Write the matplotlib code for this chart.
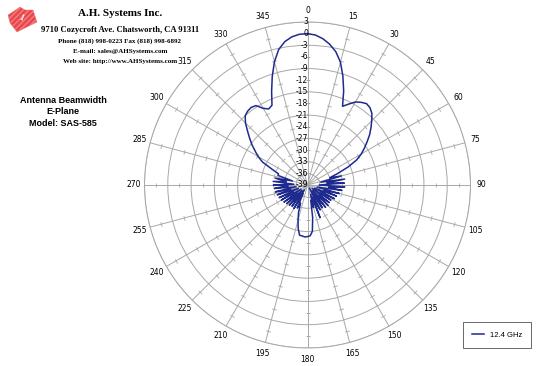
import numpy as np
import matplotlib.pyplot as plt
from matplotlib.patches import Polygon

# measured E-plane pattern, 12.4 GHz, every 3 degrees (dB)
angles_deg = list(range(0, 360, 3))
gain_db = [
    0.0, -0.3, -1.1, -2.3, -3.9, -6.2, -9.5, -13.0, -16.8, -15.6,
    -14.3, -13.6, -13.1, -13.4, -14.2, -15.6, -17.0, -18.4, -20.0, -21.5,
    -23.0, -24.8, -27.5, -30.5, -33.0, -30.0, -35.5, -29.3, -34.0, -29.5,
    -36.0, -29.4, -33.5, -30.0, -36.5, -30.5, -34.5, -31.0, -37.0, -31.2,
    -35.0, -31.8, -37.5, -31.8, -35.0, -31.5, -37.0, -31.6, -36.0, -32.0,
    -38.0, -31.8, -35.5, -30.0, -36.5, -33.0, -35.0, -30.5, -27.0, -25.9,
    -25.7, -25.6, -25.8, -25.9, -27.5, -29.6, -31.5, -34.0, -32.5, -36.5,
    -32.0, -37.5, -32.2, -36.0, -32.0, -37.0, -31.8, -35.5, -31.5, -37.0,
    -31.2, -35.0, -31.0, -36.5, -30.8, -34.5, -30.5, -36.0, -30.4, -34.0,
    -30.2, -35.5, -30.1, -33.5, -30.5, -35.0, -31.0, -31.0, -29.0, -26.0,
    -24.3, -22.9, -21.3, -19.8, -18.2, -16.4, -15.0, -14.5, -14.3, -14.6,
    -16.2, -17.0, -16.5, -13.2, -9.6, -6.1, -3.3, -1.6, -0.6, -0.1,
]
series_label = '12.4 GHz'

spoke_angles = list(range(0, 360, 15))
ring_values = [-33, -27, -21, -15, -9, -3, 3]
label_values = list(range(-39, 4, 3))
tick_values = [-36, -30, -24, -18, -12, -6, 0]

header_lines = [
    ('A.H. Systems Inc.', 8.0, 0.962),
    ('9710 Cozycroft Ave. Chatsworth, CA 91311', 6.2, 0.918),
    ('Phone (818) 998-0223 Fax (818) 998-6892', 5.0, 0.888),
    ('E-mail: sales@AHSystems.com', 5.0, 0.860),
    ('Web site: http://www.AHSystems.com', 5.0, 0.833),
]
title_lines = ['Antenna Beamwidth', 'E-Plane', 'Model: SAS-585']

grid_col = '#a8a8a8'

fig = plt.figure(figsize=(5.4, 3.66), dpi=100)
ax = fig.add_axes([0.2676, 0.0492, 0.6037, 0.8907], projection='polar')
ax.set_theta_zero_location('N')
ax.set_theta_direction(-1)

th = np.deg2rad(angles_deg + [angles_deg[0]])
r = gain_db + [gain_db[0]]
line, = ax.plot(th, r, color='#1f2a8f', lw=1.1, label=series_label, zorder=5)

ax.set_ylim(-39, 3)
ax.set_yticks(ring_values)
ax.set_yticklabels([])
ax.set_xticks(np.deg2rad(spoke_angles))
ax.set_xticklabels([str(a) for a in spoke_angles])
ax.tick_params(axis='x', labelsize=5.5, pad=-2.5)
ax.grid(True, color=grid_col, lw=0.7)
ax.spines['polar'].set_color(grid_col)
ax.spines['polar'].set_linewidth(0.7)

# small ticks across every spoke, like the Excel value axis
for a in spoke_angles:
    ax.plot(np.deg2rad([a] * len(tick_values)), tick_values, ls='none',
            marker=(2, 0, 90 - a), ms=3.5, mec=grid_col, mew=0.6, zorder=2)

# radial value labels along the 0 degree spoke
for v in label_values:
    ax.annotate(str(v), xy=(0, v), xytext=(0.5, 0), textcoords='offset points',
                ha='right', va='center', fontsize=5.5, zorder=6)

# header
for txt, size, y in header_lines:
    fig.text(0.222, y, txt, ha='center', va='center', fontsize=size,
             fontfamily='Liberation Serif', fontweight='bold')

logo_px = [(8, 15), (20, 7), (25, 10), (33, 10), (37, 22), (17, 32), (10, 23)]
logo = Polygon([(x / 540, 1 - y / 366) for x, y in logo_px], closed=True,
               transform=fig.transFigure, facecolor='#e8474c', edgecolor='#f08080',
               hatch='//////', lw=0.3)
fig.patches.append(logo)
fig.text(21 / 540, 1 - 18 / 366, '1', color='white', fontsize=6, fontweight='bold',
         rotation=-25, ha='center', va='center', fontfamily='Liberation Serif')

for i, txt in enumerate(title_lines):
    fig.text(0.117, 1 - (100 + 12 * i) / 366, txt, ha='center', va='center',
             fontsize=6.5, fontweight='bold', fontfamily='Liberation Sans')

leg = fig.legend(handles=[line], loc='center', bbox_to_anchor=(497 / 540, 1 - 335 / 366),
                 fancybox=False, edgecolor='#404040', handlelength=1.6,
                 borderpad=1.2, prop={'family': 'Liberation Sans', 'size': 5.5})
leg.get_frame().set_linewidth(0.7)

fig.savefig('out.png', dpi=100)
